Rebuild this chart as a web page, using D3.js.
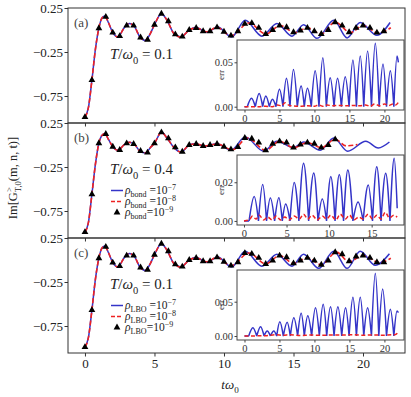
<!DOCTYPE html>
<html><head><meta charset="utf-8">
<script src="https://cdn.jsdelivr.net/npm/d3@7"></script>
<style>body{margin:0;background:#fff}svg{display:block}text{font-family:"Liberation Serif",serif}</style>
</head><body>
<svg id="c" width="411" height="397"></svg>
<script>
// ---------------- DATA ----------------
const mainXTicks = [0, 5, 10, 15, 20];
const mainYTicks = [0.25, -0.25, -0.75];
const panelLabels = ["(a)", "(b)", "(c)"];
const tempLabels = ["0.1", "0.4", "0.1"];
const triStep = 0.5;

// panel (a)
const blueA_t = [0,0.25,0.5,0.75,1.0,1.2,1.42,1.7,2.0,2.37,2.8,3.2,3.6,3.95,4.35,4.7,5.0,5.5,5.9,6.4,6.9,7.5,8.0,8.75,9.55,10.55,11.53,12.73,13.81,14.89,15.73,16.69,17.9,18.86,19.8,21.0,21.95];
const blueA_v = [-0.99,-0.88,-0.57,-0.22,0.02,0.13,0.16,0.08,-0.03,-0.08,0.02,0.075,0.03,-0.08,-0.12,-0.04,0.06,0.185,0.11,-0.04,-0.08,0.0,0.03,-0.025,0.035,-0.08,0.11,-0.07,0.075,-0.07,0.06,-0.095,0.11,-0.09,0.085,-0.06,0.085];
const redA_t = [0,0.25,0.5,0.75,1.0,1.2,1.42,1.7,2.0,2.37,2.8,3.2,3.6,3.95,4.35,4.7,5.0,5.5,5.9,6.4,6.9,7.5,8.0,8.75,9.5,10.5,11.8,13.0,14.05,15.1,16.0,17.0,18.0,19.1,20.0,21.1,22.0];
const redA_v = [-0.99,-0.88,-0.57,-0.22,0.02,0.13,0.16,0.08,-0.03,-0.08,0.02,0.075,0.03,-0.08,-0.12,-0.04,0.06,0.185,0.11,-0.04,-0.08,0.0,0.025,-0.02,0.03,-0.065,0.08,-0.045,0.05,-0.03,0.025,-0.045,0.09,-0.03,0.05,-0.035,0.025];
const triA_v = [-0.99,-0.57,0.02,0.15,-0.03,-0.07,0.05,0.05,-0.085,-0.11,0.06,0.185,0.1,-0.05,-0.075,0.0,0.023,-0.014,-0.014,0.03,-0.02,-0.064,-0.014,0.07,0.078,0.024,-0.045,0.0,0.05,0.032,-0.026,-0.007,0.024,-0.014,-0.045,0.0,0.089,0.05,-0.026,0.024,0.05,0.024,-0.03,-0.014];
const errA_zero = [0.4,1.55,2.6,3.55,4.5,5.5,6.5,7.55,8.55,9.55,10.65,11.7,12.8,13.85,14.95,16.0,17.05,18.15,19.25,20.3,21.35];
const errA_peakT = [1.0,2.1,3.05,4.0,5.0,6.0,7.0,8.1,9.0,10.1,11.2,12.25,13.3,14.4,15.5,16.55,17.6,18.7,19.8,20.85,21.8];
const errA_peakV = [0.0095,0.015,0.012,0.0083,0.0196,0.032,0.042,0.0233,0.0207,0.0405,0.055,0.0327,0.032,0.0338,0.0526,0.057,0.0627,0.0714,0.048,0.0405,0.057];
const errA_end = [22.0, 0.05];
const redErrA_t = [0,2,3,4,4.7,5.3,5.8,6.4,7.0,8.0,9.0,10.0,10.6,11.2,11.8,12.5,13.5,14.5,15.5,16.5,17.3,18.0,18.6,19.3,20.0,20.7,21.2,21.6,22.0];
const redErrA_v = [0,0,0.0005,0,0.002,0.001,0.0045,0.0015,0.001,0.0005,0.001,0.0005,0.002,0.0005,0.002,0.001,0.0015,0.001,0.0015,0.001,0.002,0.0005,0.003,0.001,0.003,0.0015,0.003,0.002,0.005];

// panel (b)
const blueB_t = [0,0.25,0.5,0.75,1.0,1.2,1.42,1.7,2.0,2.37,2.8,3.2,3.6,3.95,4.35,4.7,5.0,5.5,5.9,6.4,6.9,7.5,7.95,8.6,9.5,10.5,11.53,12.85,13.81,15.0,15.73,16.93,17.9,18.9,20.2,21.1,21.9];
const blueB_v = [-0.99,-0.88,-0.56,-0.22,0.02,0.105,0.13,0.06,-0.02,-0.06,0.0,0.03,0.0,-0.07,-0.09,-0.03,0.02,0.145,0.08,-0.03,-0.08,0.0,0.015,-0.015,0.015,-0.06,0.09,-0.07,0.042,-0.03,0.034,-0.06,0.08,-0.07,0.042,-0.034,0.034];
const redB_t = [0,0.25,0.5,0.75,1.0,1.2,1.42,1.7,2.0,2.37,2.8,3.2,3.6,3.95,4.35,4.7,5.0,5.5,5.9,6.4,6.9,7.5,8.0,8.6,9.5,10.6,11.7,13.0,14.0,15.0,16.0,17.0,18.0,18.8,19.6];
const redB_v = [-0.99,-0.88,-0.56,-0.22,0.02,0.105,0.13,0.06,-0.02,-0.06,0.0,0.03,0.0,-0.07,-0.09,-0.03,0.02,0.145,0.08,-0.03,-0.08,0.0,0.012,-0.012,0.012,-0.055,0.08,-0.06,0.042,-0.03,0.027,-0.03,0.065,-0.01,0.005];
const triB_v = [-0.99,-0.56,0.02,0.125,-0.02,-0.057,0.019,0.011,-0.068,-0.087,0.019,0.144,0.076,-0.027,-0.076,0.0,0.011,-0.011,0.0,0.011,-0.019,-0.05,-0.023,0.08,0.072,0.027,-0.061,0.015,0.042,0.027,-0.03,0.004,0.027,0.015,-0.03,0.0,0.064];
const errB_zero = [0.6,1.7,2.65,3.6,4.5,5.4,6.45,7.6,8.7,9.7,10.7,11.7,12.8,14.0,15.1,16.1,17.15];
const errB_peakT = [1.2,2.2,3.1,4.1,4.9,5.9,7.0,8.2,9.2,10.2,11.2,12.2,13.4,14.6,15.6,16.65,17.65];
const errB_peakV = [0.0126,0.0188,0.0118,0.012,0.0087,0.0199,0.0298,0.0248,0.0114,0.023,0.024,0.0264,0.0098,0.0186,0.028,0.0247,0.0324];
const errB_end = [18.0, 0.0066];
const redErrB_t = [0,0.6,1.0,1.4,1.8,2.3,2.8,3.3,3.8,4.3,4.8,5.3,5.9,6.5,7.0,7.5,8.0,8.6,9.2,9.7,10.2,10.8,11.3,11.9,12.4,12.9,13.5,14.0,14.6,15.1,15.6,16.1,16.6,17.1,17.6,18.0];
const redErrB_v = [0,0.0005,0.0025,0.001,0.003,0.0005,0.002,0.0005,0.0025,0.0005,0.002,0.0005,0.0025,0.001,0.0035,0.001,0.003,0.0005,0.0025,0.001,0.003,0.0005,0.0035,0.001,0.003,0.0005,0.002,0.001,0.0035,0.001,0.003,0.001,0.0045,0.0015,0.003,0.002];

// panel (c)
const blueC_t = [0,0.25,0.5,0.75,1.0,1.2,1.42,1.7,2.0,2.37,2.8,3.2,3.6,3.95,4.35,4.7,5.0,5.5,5.9,6.4,6.9,7.5,8.0,8.75,9.55,10.55,11.53,12.73,13.81,14.89,15.73,16.81,17.9,18.86,19.8,20.88,21.9];
const blueC_v = [-0.99,-0.88,-0.57,-0.22,0.02,0.13,0.16,0.08,-0.03,-0.08,0.02,0.075,0.03,-0.08,-0.12,-0.04,0.06,0.185,0.11,-0.04,-0.08,0.0,0.03,-0.025,0.035,-0.08,0.1,-0.07,0.066,-0.07,0.066,-0.095,0.1,-0.095,0.1,-0.06,0.07];
const redC_t = [0,0.25,0.5,0.75,1.0,1.2,1.42,1.7,2.0,2.37,2.8,3.2,3.6,3.95,4.35,4.7,5.0,5.5,5.9,6.4,6.9,7.5,8.0,8.75,9.5,10.5,11.8,13.0,14.0,15.0,16.0,17.0,18.1,19.0,20.0,21.2,22.0];
const redC_v = [-0.99,-0.88,-0.57,-0.22,0.02,0.13,0.16,0.08,-0.03,-0.08,0.02,0.075,0.03,-0.08,-0.12,-0.04,0.06,0.185,0.11,-0.04,-0.08,0.0,0.025,-0.02,0.03,-0.065,0.08,-0.045,0.05,-0.038,0.025,-0.053,0.09,-0.02,0.05,-0.03,0.02];
const triC_v = [-0.99,-0.57,0.02,0.15,-0.03,-0.07,0.05,0.05,-0.085,-0.11,0.06,0.185,0.1,-0.05,-0.075,0.0,0.023,-0.014,-0.014,0.03,-0.02,-0.064,-0.026,0.078,0.07,0.024,-0.045,-0.007,0.05,0.032,-0.038,-0.007,0.024,-0.007,-0.053,-0.007,0.089,0.066,-0.014,0.04,0.05,0.024,-0.026,-0.026];
const errC_zero = [0.6,1.75,2.8,3.7,4.6,5.55,6.55,7.6,8.55,9.6,10.7,11.75,12.8,13.9,14.95,16.0,17.05,18.15,19.2,20.3,21.35];
const errC_peakT = [1.2,2.3,3.25,4.2,5.05,6.1,7.05,8.1,9.05,10.15,11.25,12.3,13.35,14.45,15.5,16.55,17.6,18.7,19.75,20.85,21.8];
const errC_peakV = [0.0121,0.0136,0.0073,0.0073,0.0209,0.02,0.0267,0.033,0.0296,0.0413,0.0462,0.0427,0.0427,0.0413,0.0564,0.0564,0.0413,0.0914,0.0685,0.039,0.0364];
const errC_end = [22.0, 0.034];
const redErrC_t = [0,3,4.5,5.5,6.5,8,9.5,11,12.5,14,15.5,17,18.5,20,21,21.5,22];
const redErrC_v = [0,0.0005,0.002,0.001,0.002,0.0008,0.0015,0.001,0.0015,0.0015,0.002,0.0012,0.0015,0.001,0.002,0.002,0.0055];

const insetXTicksAC = [0, 5, 10, 15, 20];
const insetXTicksB = [0, 5, 10, 15];
const insetYTicksAC = [0, 0.05];
const insetYTicksB = [0, 0.02];
const legendSubs = [null, "bond", "LBO"];
const legendExps = ["−7", "−8", "−9"];

// ---------------- LAYOUT ----------------
const BLUE = "#3434c8", RED = "#ee2222";
const L = 68, R = 405, PH = 115;
const tops = [8, 123, 238];
const svg = d3.select("#c");
const x = d3.scaleLinear().domain([-1.22, 23.02]).range([L, R]);

const panels = [
  {bt: blueA_t, bv: blueA_v, rt: redA_t, rv: redA_v, tri: triA_v, ez: errA_zero, ept: errA_peakT, epv: errA_peakV, eend: errA_end, ret: redErrA_t, rev: redErrA_v,
   ixd: [-1.07, 22.8], iyd: [-0.0037, 0.0751], ixt: insetXTicksAC, iyt: insetYTicksAC},
  {bt: blueB_t, bv: blueB_v, rt: redB_t, rv: redB_v, tri: triB_v, ez: errB_zero, ept: errB_peakT, epv: errB_peakV, eend: errB_end, ret: redErrB_t, rev: redErrB_v,
   ixd: [-0.82, 18.8], iyd: [-0.0021, 0.0341], ixt: insetXTicksB, iyt: insetYTicksB},
  {bt: blueC_t, bv: blueC_v, rt: redC_t, rv: redC_v, tri: triC_v, ez: errC_zero, ept: errC_peakT, epv: errC_peakV, eend: errC_end, ret: redErrC_t, rev: redErrC_v,
   ixd: [-1.07, 22.8], iyd: [-0.0058, 0.0962], ixt: insetXTicksAC, iyt: insetYTicksAC}
];

function rich(sel, parts, size, subK, supK) {
  subK = subK || 0.3; supK = supK || 0.4;
  let cur = 0;
  parts.forEach(([t, k]) => {
    const ts = sel.append("tspan").text(t);
    let target = 0, fs = size;
    if (k === "sub") { target = size * subK; fs = size * 0.7; }
    if (k === "sup") { target = -size * supK; fs = size * 0.7; }
    if (k === "i") ts.attr("font-style", "italic");
    ts.attr("font-size", fs).attr("dy", target - cur);
    cur = target;
  });
}

panels.forEach((p, i) => {
  const top = tops[i];
  const g = svg.append("g");
  const y = d3.scaleLinear().domain([0.25 - PH / 88, 0.25]).range([top + PH, top]);

  // axes
  const ya = d3.axisLeft(y).tickValues(mainYTicks).tickSize(3.5).tickPadding(1.5).tickFormat(d3.format(".2f"));
  const gy = g.append("g").attr("transform", `translate(${L},0)`).call(ya);
  gy.select(".domain").remove();
  gy.selectAll("text").attr("font-size", 13).attr("font-family", "Liberation Serif").attr("fill", "#222");
  gy.selectAll("line").attr("stroke", "#333");
  const xa = d3.axisBottom(x).tickValues(mainXTicks).tickSize(3.5).tickPadding(2)
    .tickFormat(i === 2 ? d3.format("d") : () => "");
  const gx = g.append("g").attr("transform", `translate(0,${top + PH})`).call(xa);
  gx.select(".domain").remove();
  gx.selectAll("text").attr("font-size", 13).attr("font-family", "Liberation Serif").attr("fill", "#222");
  gx.selectAll("line").attr("stroke", "#333");

  // curves
  const line = d3.line().x(d => x(d[0])).y(d => y(d[1])).curve(d3.curveMonotoneX);
  g.append("path").attr("d", line(p.bt.map((t, j) => [t, p.bv[j]])))
    .attr("fill", "none").attr("stroke", BLUE).attr("stroke-width", 1.5);
  g.append("path").attr("d", line(p.rt.map((t, j) => [t, p.rv[j]])))
    .attr("fill", "none").attr("stroke", RED).attr("stroke-width", 1.6).attr("stroke-dasharray", "5,2.5");
  const sym = d3.symbol(d3.symbolTriangle).size(20);
  g.selectAll("path.tri").data(p.tri).enter().append("path").attr("class", "tri")
    .attr("d", sym).attr("fill", "#000")
    .attr("transform", (d, j) => `translate(${x(j * triStep)},${y(d)})`);

  // frame
  g.append("rect").attr("x", L).attr("y", top).attr("width", R - L).attr("height", PH)
    .attr("fill", "none").attr("stroke", "#333").attr("stroke-width", 1);

  // labels
  g.append("text").attr("x", 74).attr("y", top + 19).attr("font-size", 13).attr("fill", "#444").text(panelLabels[i]);
  const tt = g.append("text").attr("x", 110).attr("y", top + 51).attr("fill", "#222");
  rich(tt, [["T", "i"], ["/", ""], ["ω", "i"], ["0", "sub"], [" = " + tempLabels[i], ""]], 15);

  // legend
  if (legendSubs[i]) {
    const rows = [top + 67.5, top + 78.5, top + 89.5];
    g.append("line").attr("x1", 111).attr("x2", 123).attr("y1", rows[0]).attr("y2", rows[0]).attr("stroke", BLUE).attr("stroke-width", 1.5);
    g.append("line").attr("x1", 111).attr("x2", 123).attr("y1", rows[1]).attr("y2", rows[1]).attr("stroke", RED).attr("stroke-width", 1.6).attr("stroke-dasharray", "4,2");
    g.append("path").attr("d", sym).attr("transform", `translate(117,${rows[2]})`).attr("fill", "#000");
    rows.forEach((ry, k) => {
      const t = g.append("text").attr("x", 125).attr("y", ry + 3.5).attr("fill", "#222");
      rich(t, [["ρ", "i"], [legendSubs[i], "sub"], [k < 2 ? " =10" : "=10", ""], [legendExps[k], "sup"]], 11.5, 0.22, 0.32);
    });
  }

  // inset
  const iL = 237, iR = 404, iT = top + 32, iB = top + 102;
  const ix = d3.scaleLinear().domain(p.ixd).range([iL, iR]);
  const iy = d3.scaleLinear().domain(p.iyd).range([iB, iT]);
  const gi = svg.append("g");
  gi.append("rect").attr("x", iL).attr("y", iT).attr("width", iR - iL).attr("height", iB - iT)
    .attr("fill", "#fff").attr("stroke", "#444").attr("stroke-width", 1);
  const iya = d3.axisLeft(iy).tickValues(p.iyt).tickSize(2.5).tickPadding(1.5).tickFormat(d3.format(".2f"));
  const giy = gi.append("g").attr("transform", `translate(${iL},0)`).call(iya);
  giy.select(".domain").remove();
  const ixa = d3.axisBottom(ix).tickValues(p.ixt).tickSize(2.5).tickPadding(2.5).tickFormat(d3.format("d"));
  const gix = gi.append("g").attr("transform", `translate(0,${iB})`).call(ixa);
  gix.select(".domain").remove();
  gi.selectAll("text").attr("font-size", 10.5).attr("font-family", "Liberation Serif").attr("fill", "#333");
  gi.selectAll(".tick line").attr("stroke", "#444");
  gi.append("text").attr("transform", `translate(224,${(iT + iB) / 2}) rotate(-90)`)
    .attr("text-anchor", "middle").attr("font-size", 9).attr("fill", "#333").text("err");

  // blue error arches
  const il = d3.line().x(d => ix(d[0])).y(d => iy(d[1])).curve(d3.curveMonotoneX);
  let dstr = d3.line().x(d => ix(d[0])).y(d => iy(d[1]))([[0, 0], [p.ez[0], 0]]);
  p.ept.forEach((pt, j) => {
    const z0 = p.ez[j];
    const z1 = j + 1 < p.ez.length ? [p.ez[j + 1], 0] : p.eend;
    dstr += il([[z0, 0], [pt, p.epv[j]], z1]);
  });
  gi.append("path").attr("d", dstr).attr("fill", "none").attr("stroke", BLUE).attr("stroke-width", 1.5);
  gi.append("path").attr("d", il(p.ret.map((t, j) => [t, p.rev[j]])))
    .attr("fill", "none").attr("stroke", RED).attr("stroke-width", 1.5).attr("stroke-dasharray", "4,2.5");
});

// axis titles
const yl = svg.append("text").attr("transform", "translate(17,178) rotate(-90)").attr("text-anchor", "middle").attr("fill", "#222");
rich(yl, [["Im[G", ""], [">", "sup"]], 12.5);
yl.append("tspan").attr("font-size", 8.5).attr("dx", -5).attr("dy", 8.5).text("T,0");
yl.append("tspan").attr("font-size", 12.5).attr("dy", -3.5).text("(m, n, t)]");

const xl = svg.append("text").attr("x", 230).attr("y", 389).attr("text-anchor", "middle").attr("fill", "#222");
rich(xl, [["tω", "i"], ["0", "sub"]], 13);
</script></body></html>
